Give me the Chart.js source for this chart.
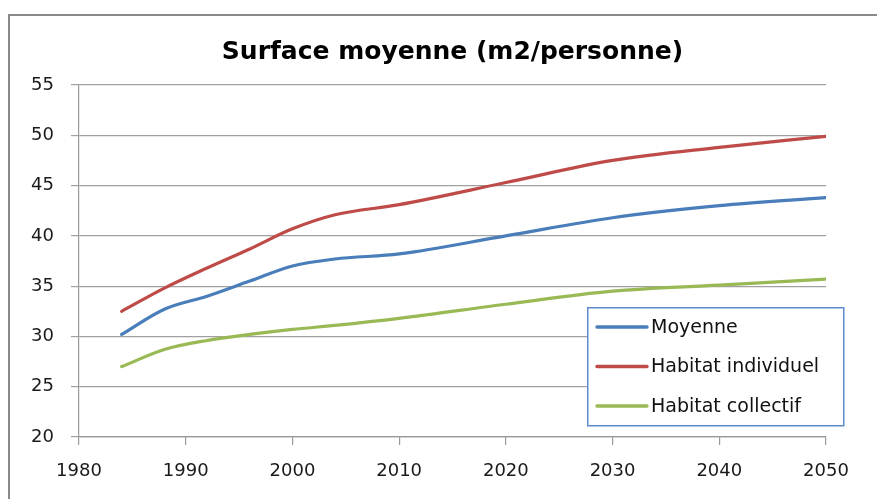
<!DOCTYPE html>
<html>
<head>
<meta charset="utf-8">
<script src="https://cdn.jsdelivr.net/npm/chart.js@4.4.1/dist/chart.umd.min.js"></script>
<style>
  html, body { margin: 0; padding: 0; background: #fff; overflow: hidden; }
  canvas { display: block; }
</style>
</head>
<body>
<canvas id="c" width="877" height="499"></canvas>
<script>
const title = 'Surface moyenne (m2/personne)';
const seriesNames = ['Moyenne', 'Habitat individuel', 'Habitat collectif'];
const years = [1984, 1988, 1992, 1996, 2000, 2004, 2010, 2020, 2030, 2040, 2050];
const moyenne = [30.2, 32.7, 34.0, 35.5, 37.0, 37.7, 38.2, 40.0, 41.8, 43.0, 43.8];
const individuel = [32.5, 34.8, 36.8, 38.7, 40.7, 42.1, 43.1, 45.3, 47.5, 48.8, 49.9];
const collectif = [27.0, 28.7, 29.6, 30.2, 30.7, 31.1, 31.8, 33.2, 34.5, 35.1, 35.7];
const xTicks = [1980, 1990, 2000, 2010, 2020, 2030, 2040, 2050];
const yTicks = [20, 25, 30, 35, 40, 45, 50, 55];

const colors = ['#4a7ebb', '#be4b48', '#98b954'];
const values = [moyenne, individuel, collectif];

const datasets = values.map((arr, i) => ({
  label: seriesNames[i],
  data: years.map((y, j) => ({ x: y, y: arr[j] })),
  borderColor: colors[i],
  backgroundColor: colors[i],
  borderWidth: 3.2,
  pointRadius: 0,
  cubicInterpolationMode: 'monotone',
  borderCapStyle: 'round',
  fill: false
}));

const frame = {
  id: 'frame',
  beforeDraw(chart) {
    const ctx = chart.ctx;
    ctx.save();
    ctx.strokeStyle = '#8a8a8a';
    ctx.lineWidth = 2;
    ctx.beginPath();
    ctx.moveTo(9, chart.height);
    ctx.lineTo(9, 15);
    ctx.lineTo(chart.width, 15);
    ctx.stroke();
    ctx.restore();
  }
};

const boxLegend = {
  id: 'boxLegend',
  afterDraw(chart) {
    const ctx = chart.ctx;
    const bx = 587, by = 307, bw = 256, bh = 118;
    ctx.save();
    ctx.fillStyle = '#ffffff';
    ctx.fillRect(bx, by, bw, bh);
    ctx.strokeStyle = '#5f8ad0';
    ctx.lineWidth = 1.5;
    ctx.strokeRect(bx + 0.75, by + 0.75, bw, bh);
    ctx.font = '19px "DejaVu Sans"';
    ctx.textBaseline = 'middle';
    ctx.fillStyle = '#111';
    chart.data.datasets.forEach((ds, i) => {
      const yy = by + 20 + i * 39.5;
      ctx.strokeStyle = ds.borderColor;
      ctx.lineWidth = 3.4;
      ctx.lineCap = 'round';
      ctx.beginPath();
      ctx.moveTo(bx + 10, yy);
      ctx.lineTo(bx + 60, yy);
      ctx.stroke();
      ctx.fillText(ds.label, bx + 64, yy + 1);
    });
    ctx.restore();
  }
};

new Chart(document.getElementById('c'), {
  type: 'line',
  data: { datasets },
  options: {
    responsive: false,
    animation: false,
    layout: { padding: { left: 0, right: 51, top: 0, bottom: 0 } },
    plugins: {
      legend: { display: false },
      tooltip: { enabled: false },
      title: {
        display: true,
        fullSize: false,
        text: title,
        color: '#000',
        font: { family: '"DejaVu Sans"', size: 25, weight: 'bold' },
        padding: { top: 37, bottom: 18 }
      }
    },
    scales: {
      x: {
        type: 'linear',
        min: 1980,
        max: 2050,
        afterBuildTicks(scale) { scale.ticks = xTicks.map(v => ({ value: v })); },
        afterFit(scale) { scale.height = 62; },
        ticks: {
          color: '#1a1a1a',
          font: { family: '"DejaVu Sans"', size: 18 },
          padding: 16,
          maxRotation: 0,
          callback: v => String(v)
        },
        grid: { display: true, drawOnChartArea: false, drawTicks: true, tickLength: 8, color: '#999', lineWidth: 1.2 },
        border: { display: true, color: '#999', width: 1.2 }
      },
      y: {
        min: 20,
        max: 55,
        afterBuildTicks(scale) { scale.ticks = yTicks.map(v => ({ value: v })); },
        afterFit(scale) { scale.width = 79; },
        ticks: {
          color: '#1a1a1a',
          font: { family: '"DejaVu Sans"', size: 18 },
          padding: 17
        },
        grid: { color: '#a0a0a0', lineWidth: 1.2, tickLength: 8 },
        border: { display: true, color: '#999', width: 1.2 }
      }
    }
  },
  plugins: [frame, boxLegend]
});
</script>
</body>
</html>
